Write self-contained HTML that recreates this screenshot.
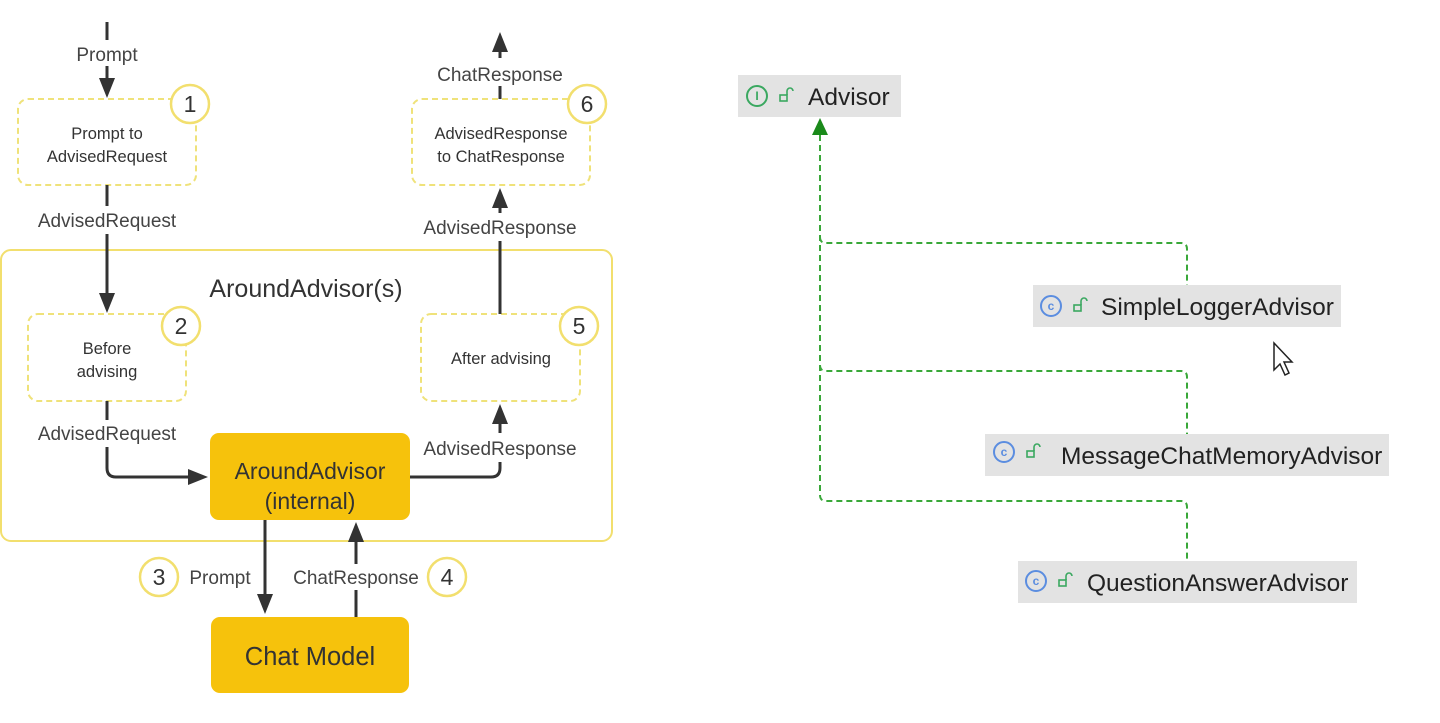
<!DOCTYPE html>
<html><head><meta charset="utf-8"><style>
html,body{margin:0;padding:0;background:#fff;}
svg{display:block;}
text{font-family:"Liberation Sans","DejaVu Sans",sans-serif;}
</style></head><body>
<svg width="1440" height="723" viewBox="0 0 1440 723" xmlns="http://www.w3.org/2000/svg">
<g fill="none" stroke="#333" stroke-width="3">
<rect x="1" y="250" width="611" height="291" rx="10" stroke="#f2df6e" stroke-width="2"/>
</g>
<g fill="none" stroke="#efe27a" stroke-width="2" stroke-dasharray="6,4">
<rect x="18" y="99" width="178" height="86" rx="10"/>
<rect x="412" y="99" width="178" height="86" rx="10"/>
<rect x="28" y="314" width="158" height="87" rx="10"/>
<rect x="421" y="314" width="159" height="87" rx="10"/>
</g>
<g fill="none" stroke="#333" stroke-width="3">
<line x1="107" y1="22" x2="107" y2="40"/>
<line x1="107" y1="66" x2="107" y2="88"/>
<line x1="107" y1="185" x2="107" y2="206"/>
<line x1="107" y1="234" x2="107" y2="302"/>
<line x1="107" y1="401" x2="107" y2="420"/>
<path d="M107,447 L107,468 Q107,477 116,477 L196,477"/>
<path d="M410,477 L491,477 Q500,477 500,468 L500,462"/>
<line x1="500" y1="433" x2="500" y2="415"/>
<line x1="500" y1="314" x2="500" y2="241"/>
<line x1="500" y1="213" x2="500" y2="199"/>
<line x1="500" y1="99" x2="500" y2="86"/>
<line x1="500" y1="58" x2="500" y2="42"/>
<line x1="265" y1="520" x2="265" y2="602"/>
<line x1="356" y1="617" x2="356" y2="590"/>
<line x1="356" y1="564" x2="356" y2="534"/>
</g>
<g fill="#333">
<path d="M99,78 L115,78 L107,98 z"/>
<path d="M99,293 L115,293 L107,313 z"/>
<path d="M188,469 L188,485 L208,477 z"/>
<path d="M492,424 L508,424 L500,404 z"/>
<path d="M492,208 L508,208 L500,188 z"/>
<path d="M492,52 L508,52 L500,32 z"/>
<path d="M257,594 L273,594 L265,614 z"/>
<path d="M348,542 L364,542 L356,522 z"/>
</g>
<rect x="210" y="433" width="200" height="87" rx="9" fill="#f6c20c"/>
<rect x="211" y="617" width="198" height="76" rx="9" fill="#f6c20c"/>
<text x="310" y="479" font-size="23" text-anchor="middle" fill="#333">AroundAdvisor</text>
<text x="310" y="509" font-size="23" text-anchor="middle" fill="#333">(internal)</text>
<text x="310" y="665" font-size="25.5" text-anchor="middle" fill="#333">Chat Model</text>
<g font-size="19" fill="#444" text-anchor="middle">
<text x="107" y="61">Prompt</text>
<text x="107" y="227">AdvisedRequest</text>
<text x="107" y="440">AdvisedRequest</text>
<text x="500" y="455">AdvisedResponse</text>
<text x="500" y="234">AdvisedResponse</text>
<text x="500" y="81">ChatResponse</text>
<text x="220" y="584">Prompt</text>
<text x="356" y="584">ChatResponse</text>
</g>
<text x="306" y="297" font-size="25" fill="#333" text-anchor="middle">AroundAdvisor(s)</text>
<g font-size="16.5" fill="#333" text-anchor="middle">
<text x="107" y="139">Prompt to</text>
<text x="107" y="162">AdvisedRequest</text>
<text x="501" y="139">AdvisedResponse</text>
<text x="501" y="162">to ChatResponse</text>
<text x="107" y="354">Before</text>
<text x="107" y="377">advising</text>
<text x="501" y="364">After advising</text>
</g>
<g fill="#fff" stroke="#f2df6e" stroke-width="2.5">
<circle cx="190" cy="104" r="19"/>
<circle cx="587" cy="104" r="19"/>
<circle cx="181" cy="326" r="19"/>
<circle cx="579" cy="326" r="19"/>
<circle cx="159" cy="577" r="19"/>
<circle cx="447" cy="577" r="19"/>
</g>
<g font-size="23" fill="#333" text-anchor="middle">
<text x="190" y="112">1</text>
<text x="587" y="112">6</text>
<text x="181" y="334">2</text>
<text x="579" y="334">5</text>
<text x="159" y="585">3</text>
<text x="447" y="585">4</text>
</g>

<g fill="none" stroke="#3aa83a" stroke-width="2" stroke-dasharray="6,4">
<path d="M820,135 L820,495 Q820,501 826,501 L1181,501 Q1187,501 1187,507 L1187,561"/>
<path d="M820,237 Q820,243 826,243 L1181,243 Q1187,243 1187,249 L1187,285"/>
<path d="M820,365 Q820,371 826,371 L1181,371 Q1187,371 1187,377 L1187,434"/>
</g>
<path d="M812,135 L828,135 L820,118 z" fill="#1a8a1a"/>
<g fill="#e3e3e3">
<rect x="738" y="75" width="163" height="42"/>
<rect x="1033" y="285" width="308" height="42"/>
<rect x="985" y="434" width="404" height="42"/>
<rect x="1018" y="561" width="339" height="42"/>
</g>
<g fill="none" stroke-width="2">
<circle cx="757" cy="96" r="10" stroke="#3aa860"/>
<circle cx="1051" cy="306" r="10" stroke="#5b8de0"/>
<circle cx="1004" cy="452" r="10" stroke="#5b8de0"/>
<circle cx="1036" cy="581" r="10" stroke="#5b8de0"/>
</g>
<g font-size="12" text-anchor="middle" font-weight="bold">
<text x="757" y="100" fill="#3aa860">I</text>
<text x="1051" y="310" fill="#5b8de0">c</text>
<text x="1004" y="456" fill="#5b8de0">c</text>
<text x="1036" y="585" fill="#5b8de0">c</text>
</g>
<g fill="none" stroke="#3aa860" stroke-width="1.6">
<rect x="780" y="95" width="7" height="6"/><path d="M787,95 v-4 a3,3 0 0 1 6,0"/>
<rect x="1074" y="305" width="7" height="6"/><path d="M1081,305 v-4 a3,3 0 0 1 6,0"/>
<rect x="1027" y="451" width="7" height="6"/><path d="M1034,451 v-4 a3,3 0 0 1 6,0"/>
<rect x="1059" y="580" width="7" height="6"/><path d="M1066,580 v-4 a3,3 0 0 1 6,0"/>
</g>
<g font-size="24.5" fill="#222">
<text x="808" y="105">Advisor</text>
<text x="1101" y="315">SimpleLoggerAdvisor</text>
<text x="1061" y="464">MessageChatMemoryAdvisor</text>
<text x="1087" y="591">QuestionAnswerAdvisor</text>
</g>
<path d="M1274,343 L1274,370 L1280,364 L1285,375 L1289,373 L1284,362 L1292,362 z" fill="#fff" stroke="#222" stroke-width="1.5"/>
</svg>
</body></html>
